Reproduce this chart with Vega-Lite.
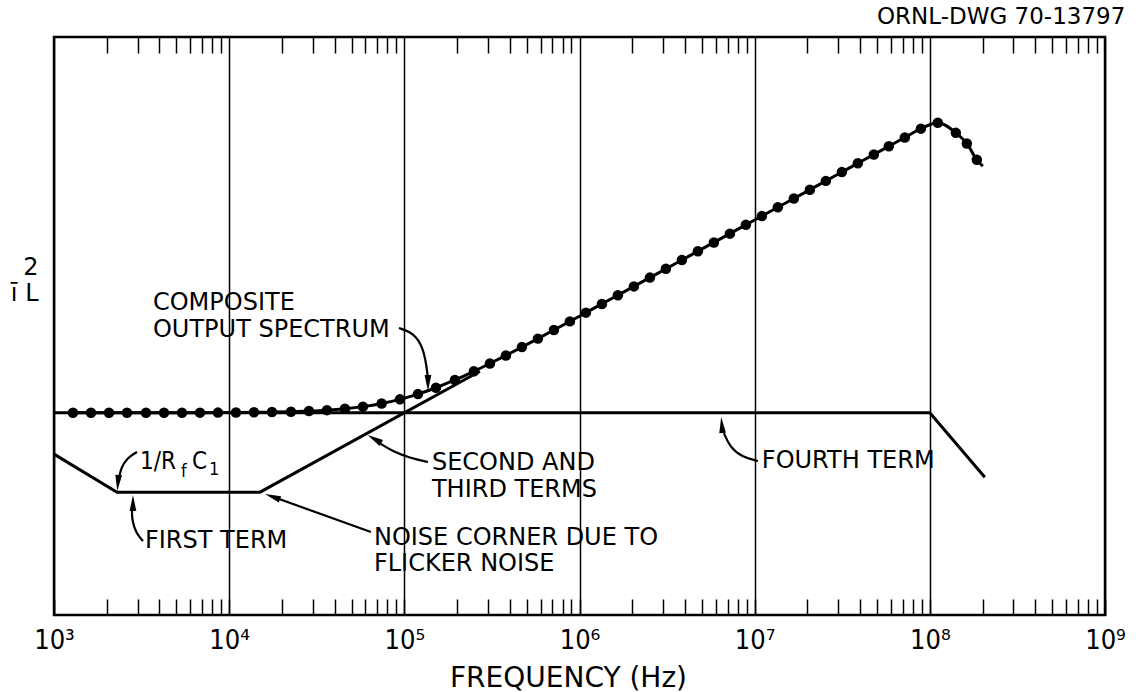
{
  "$schema": "https://vega.github.io/schema/vega-lite/v6.json",
  "width": 1051,
  "height": 578,
  "autosize": {"type": "none"},
  "padding": {"left": 54, "top": 37, "right": 34, "bottom": 77},
  "background": "white",
  "config": {
    "view": {"stroke": "black", "strokeWidth": 2.5},
    "font": "DejaVu Sans"
  },
  "title": {
    "text": "ORNL-DWG 70-13797",
    "anchor": "end",
    "font": "DejaVu Sans",
    "fontSize": 23,
    "fontWeight": "normal",
    "color": "black",
    "offset": 7
  },
  "datasets": {
    "terms": [
      {"series": "fourth", "f": 1000, "level": 42},
      {"series": "fourth", "f": 100000000, "level": 42},
      {"series": "fourth", "f": 206000000, "level": 28.6},
      {"series": "first-second-third", "f": 1000, "level": 33.4},
      {"series": "first-second-third", "f": 2290, "level": 25.5},
      {"series": "first-second-third", "f": 15000, "level": 25.5},
      {"series": "first-second-third", "f": 270000, "level": 50.6}
    ],
    "composite": [
      {"f": 1283, "level": 42.0, "dot": true},
      {"f": 1626, "level": 42.0, "dot": true},
      {"f": 2060, "level": 42.0, "dot": true},
      {"f": 2610, "level": 42.0, "dot": true},
      {"f": 3351, "level": 42.0, "dot": true},
      {"f": 4246, "level": 42.0, "dot": true},
      {"f": 5379, "level": 42.0, "dot": true},
      {"f": 6813, "level": 42.01, "dot": true},
      {"f": 8630, "level": 42.02, "dot": true},
      {"f": 10934, "level": 42.05, "dot": true},
      {"f": 13855, "level": 42.08, "dot": true},
      {"f": 17551, "level": 42.13, "dot": true},
      {"f": 22530, "level": 42.21, "dot": true},
      {"f": 28543, "level": 42.34, "dot": true},
      {"f": 36160, "level": 42.53, "dot": true},
      {"f": 45814, "level": 42.83, "dot": true},
      {"f": 58030, "level": 43.26, "dot": true},
      {"f": 74211, "level": 43.91, "dot": true},
      {"f": 94383, "level": 44.77, "dot": true},
      {"f": 119580, "level": 45.86, "dot": true},
      {"f": 151520, "level": 47.18, "dot": true},
      {"f": 194440, "level": 48.79, "dot": true},
      {"f": 249630, "level": 50.59, "dot": true},
      {"f": 308040, "level": 52.21, "dot": true},
      {"f": 380180, "level": 53.89, "dot": true},
      {"f": 469030, "level": 55.62, "dot": true},
      {"f": 578760, "level": 57.38, "dot": true},
      {"f": 714330, "level": 59.16, "dot": true},
      {"f": 881500, "level": 60.96, "dot": true},
      {"f": 1087700, "level": 62.77, "dot": true},
      {"f": 1342800, "level": 64.58, "dot": true},
      {"f": 1656500, "level": 66.4, "dot": true},
      {"f": 2044100, "level": 68.22, "dot": true},
      {"f": 2522400, "level": 70.05, "dot": true},
      {"f": 3113200, "level": 71.87, "dot": true},
      {"f": 3841600, "level": 73.7, "dot": true},
      {"f": 4740400, "level": 75.52, "dot": true},
      {"f": 5849700, "level": 77.35, "dot": true},
      {"f": 7219400, "level": 79.17, "dot": true},
      {"f": 8908400, "level": 81.0, "dot": true},
      {"f": 10992000, "level": 82.82, "dot": true},
      {"f": 13566000, "level": 84.65, "dot": true},
      {"f": 16740000, "level": 86.47, "dot": true},
      {"f": 20658000, "level": 88.3, "dot": true},
      {"f": 25492000, "level": 90.13, "dot": true},
      {"f": 31459000, "level": 91.95, "dot": true},
      {"f": 38815000, "level": 93.78, "dot": true},
      {"f": 47908000, "level": 95.61, "dot": true},
      {"f": 58345000, "level": 97.32, "dot": true},
      {"f": 72007000, "level": 99.15, "dot": true},
      {"f": 88863000, "level": 100.97, "dot": true},
      {"f": 111080000, "level": 102.2, "dot": true},
      {"f": 140740000, "level": 100.1, "dot": true},
      {"f": 162620000, "level": 97.9, "dot": true},
      {"f": 185480000, "level": 94.5, "dot": true},
      {"f": 200680000, "level": 93.2, "dot": false}
    ],
    "arrows": [
      {"arrow": "composite", "i": 0, "f": 93160, "level": 59.58},
      {"arrow": "composite", "i": 1, "f": 113400, "level": 58.54},
      {"arrow": "composite", "i": 2, "f": 127700, "level": 55.64},
      {"arrow": "composite", "i": 3, "f": 134600, "level": 51.28},
      {"arrow": "composite", "i": 4, "f": 136400, "level": 48.78},
      {"arrow": "rfc", "i": 0, "f": 2977, "level": 33.84},
      {"arrow": "rfc", "i": 1, "f": 2610, "level": 32.59},
      {"arrow": "rfc", "i": 2, "f": 2413, "level": 30.52},
      {"arrow": "rfc", "i": 3, "f": 2350, "level": 28.44},
      {"arrow": "first", "i": 0, "f": 3221, "level": 15.36},
      {"arrow": "first", "i": 1, "f": 2938, "level": 17.02},
      {"arrow": "first", "i": 2, "f": 2787, "level": 19.72},
      {"arrow": "first", "i": 3, "f": 2787, "level": 21.8},
      {"arrow": "corner", "i": 0, "f": 64480, "level": 17.23},
      {"arrow": "corner", "i": 1, "f": 18256, "level": 24.39},
      {"arrow": "second", "i": 0, "f": 136400, "level": 31.76},
      {"arrow": "second", "i": 1, "f": 107650, "level": 32.59},
      {"arrow": "second", "i": 2, "f": 85000, "level": 34.05},
      {"arrow": "second", "i": 3, "f": 73500, "level": 35.5},
      {"arrow": "fourth", "i": 0, "f": 10430000, "level": 31.97},
      {"arrow": "fourth", "i": 1, "f": 8453000, "level": 32.8},
      {"arrow": "fourth", "i": 2, "f": 7219000, "level": 34.88},
      {"arrow": "fourth", "i": 3, "f": 6673000, "level": 37.78}
    ],
    "heads": [
      {"arrow": "composite", "f": 136400, "level": 48.16, "angle": 180},
      {"arrow": "rfc", "f": 2319, "level": 27.4, "angle": 185},
      {"arrow": "first", "f": 2824, "level": 23.25, "angle": 0},
      {"arrow": "corner", "f": 17666, "level": 24.56, "angle": 290},
      {"arrow": "second", "f": 67490, "level": 36.54, "angle": 300},
      {"arrow": "fourth", "f": 6500000, "level": 39.44, "angle": 355}
    ],
    "labels": [
      {"text": "COMPOSITE", "f": 3673, "level": 63.32, "role": "label"},
      {"text": "OUTPUT SPECTRUM", "f": 3673, "level": 57.71, "role": "label"},
      {"text": "1/R", "f": 3097, "level": 30.31, "role": "symbol"},
      {"text": "f", "f": 5308, "level": 28.65, "role": "subscript"},
      {"text": "C", "f": 6134, "level": 30.31, "role": "symbol"},
      {"text": "1", "f": 7668, "level": 29.0, "role": "subscript"},
      {"text": "FIRST TERM", "f": 3307, "level": 13.91, "role": "label"},
      {"text": "NOISE CORNER DUE TO", "f": 67060, "level": 14.6, "role": "label"},
      {"text": "FLICKER NOISE", "f": 67060, "level": 9.05, "role": "label"},
      {"text": "SECOND AND", "f": 143730, "level": 30.1, "role": "label"},
      {"text": "THIRD TERMS", "f": 143730, "level": 24.5, "role": "label"},
      {"text": "FOURTH TERM", "f": 10992000, "level": 30.52, "role": "label"}
    ]
  },
  "layer": [
    {
      "data": {"name": "terms"},
      "mark": {"type": "line", "color": "black", "strokeWidth": 3},
      "encoding": {
        "x": {
          "field": "f", "type": "quantitative",
          "scale": {"type": "log", "domain": [1000, 1000000000], "nice": false},
          "axis": {
            "orient": "bottom",
            "values": [1000, 2000, 3000, 4000, 5000, 6000, 7000, 8000, 9000,
                       10000, 20000, 30000, 40000, 50000, 60000, 70000, 80000, 90000,
                       100000, 200000, 300000, 400000, 500000, 600000, 700000, 800000, 900000,
                       1000000, 2000000, 3000000, 4000000, 5000000, 6000000, 7000000, 8000000, 9000000,
                       10000000, 20000000, 30000000, 40000000, 50000000, 60000000, 70000000, 80000000, 90000000,
                       100000000, 200000000, 300000000, 400000000, 500000000, 600000000, 700000000, 800000000, 900000000,
                       1000000000],
            "title": "FREQUENCY (Hz)",
            "titleFont": "DejaVu Sans",
            "titleFontSize": 28,
            "titleFontWeight": "normal",
            "titleColor": "black",
            "titlePadding": 11,
            "titleX": 514,
            "domain": false,
            "tickSize": -16,
            "tickWidth": 1.5,
            "tickColor": "black",
            "labelExpr": "abs(log(datum.value)/LN10 - round(log(datum.value)/LN10)) < 0.000001 ? '10' + ['⁰','¹','²','³','⁴','⁵','⁶','⁷','⁸','⁹'][round(log(datum.value)/LN10)] : ''",
            "labelFont": "DejaVu Sans Condensed",
            "labelFontSize": 27,
            "labelColor": "black",
            "labelPadding": 28,
            "labelFlush": false,
            "labelOverlap": false,
            "labelBound": false,
            "grid": true,
            "gridColor": "black",
            "gridWidth": 1.5,
            "gridOpacity": {
              "condition": {"test": "abs(log(datum.value)/LN10 - round(log(datum.value)/LN10)) < 0.000001", "value": 1},
              "value": 0
            }
          }
        },
        "y": {
          "field": "level", "type": "quantitative",
          "scale": {"domain": [0, 120], "nice": false},
          "axis": {
            "title": ["2", "\u012b\u00a0L"],
            "titleFont": "DejaVu Sans",
            "titleFontSize": 24,
            "titleFontWeight": "normal",
            "titleColor": "black",
            "titleAngle": 0,
            "titleAlign": "right",
            "titleBaseline": "alphabetic",
            "titleLineHeight": 26,
            "titleX": -16,
            "titleY": 237,
            "labels": false,
            "ticks": false,
            "domain": false,
            "grid": false
          }
        },
        "detail": {"field": "series"}
      }
    },
    {
      "data": {"name": "composite"},
      "mark": {"type": "line", "color": "black", "strokeWidth": 3, "interpolate": "monotone"},
      "encoding": {
        "x": {
          "field": "f", "type": "quantitative",
          "scale": {"type": "log", "domain": [1000, 1000000000], "nice": false},
          "axis": {
            "orient": "top",
            "values": [2000, 3000, 4000, 5000, 6000, 7000, 8000, 9000,
                       20000, 30000, 40000, 50000, 60000, 70000, 80000, 90000,
                       200000, 300000, 400000, 500000, 600000, 700000, 800000, 900000,
                       2000000, 3000000, 4000000, 5000000, 6000000, 7000000, 8000000, 9000000,
                       20000000, 30000000, 40000000, 50000000, 60000000, 70000000, 80000000, 90000000,
                       200000000, 300000000, 400000000, 500000000, 600000000, 700000000, 800000000, 900000000],
            "title": null,
            "labels": false,
            "domain": false,
            "grid": false,
            "tickSize": -16,
            "tickWidth": 1.5,
            "tickColor": "black"
          }
        },
        "y": {"field": "level", "type": "quantitative", "scale": {"domain": [0, 120], "nice": false}, "axis": null}
      }
    },
    {
      "data": {"name": "composite"},
      "transform": [{"filter": "datum.dot"}],
      "mark": {"type": "point", "filled": true, "color": "black", "opacity": 1, "size": 110},
      "encoding": {
        "x": {"field": "f", "type": "quantitative", "scale": {"type": "log", "domain": [1000, 1000000000], "nice": false}, "axis": null},
        "y": {"field": "level", "type": "quantitative", "scale": {"domain": [0, 120], "nice": false}, "axis": null}
      }
    },
    {
      "data": {"name": "arrows"},
      "mark": {"type": "line", "color": "black", "strokeWidth": 2.2, "interpolate": "basis"},
      "encoding": {
        "x": {"field": "f", "type": "quantitative", "scale": {"type": "log", "domain": [1000, 1000000000], "nice": false}, "axis": null},
        "y": {"field": "level", "type": "quantitative", "scale": {"domain": [0, 120], "nice": false}, "axis": null},
        "detail": {"field": "arrow"},
        "order": {"field": "i", "type": "quantitative"}
      }
    },
    {
      "data": {"name": "heads"},
      "mark": {"type": "point", "filled": true, "color": "black", "opacity": 1, "size": 256, "shape": "M0,-1L0.42,1L-0.42,1Z"},
      "encoding": {
        "x": {"field": "f", "type": "quantitative", "scale": {"type": "log", "domain": [1000, 1000000000], "nice": false}, "axis": null},
        "y": {"field": "level", "type": "quantitative", "scale": {"domain": [0, 120], "nice": false}, "axis": null},
        "angle": {"field": "angle", "type": "quantitative", "scale": null}
      }
    },
    {
      "data": {"name": "labels"},
      "transform": [{"filter": "datum.role === 'label'"}],
      "mark": {"type": "text", "align": "left", "baseline": "alphabetic", "font": "DejaVu Sans", "fontSize": 24, "color": "black"},
      "encoding": {
        "x": {"field": "f", "type": "quantitative", "scale": {"type": "log", "domain": [1000, 1000000000], "nice": false}, "axis": null},
        "y": {"field": "level", "type": "quantitative", "scale": {"domain": [0, 120], "nice": false}, "axis": null},
        "text": {"field": "text"}
      }
    },
    {
      "data": {"name": "labels"},
      "transform": [{"filter": "datum.role === 'symbol'"}],
      "mark": {"type": "text", "align": "left", "baseline": "alphabetic", "font": "DejaVu Sans Condensed", "fontSize": 24, "color": "black"},
      "encoding": {
        "x": {"field": "f", "type": "quantitative", "scale": {"type": "log", "domain": [1000, 1000000000], "nice": false}, "axis": null},
        "y": {"field": "level", "type": "quantitative", "scale": {"domain": [0, 120], "nice": false}, "axis": null},
        "text": {"field": "text"}
      }
    },
    {
      "data": {"name": "labels"},
      "transform": [{"filter": "datum.role === 'subscript'"}],
      "mark": {"type": "text", "align": "left", "baseline": "alphabetic", "font": "DejaVu Sans Condensed", "fontSize": 18, "color": "black"},
      "encoding": {
        "x": {"field": "f", "type": "quantitative", "scale": {"type": "log", "domain": [1000, 1000000000], "nice": false}, "axis": null},
        "y": {"field": "level", "type": "quantitative", "scale": {"domain": [0, 120], "nice": false}, "axis": null},
        "text": {"field": "text"}
      }
    }
  ],
  "resolve": {"axis": {"x": "independent", "y": "independent"}}
}
